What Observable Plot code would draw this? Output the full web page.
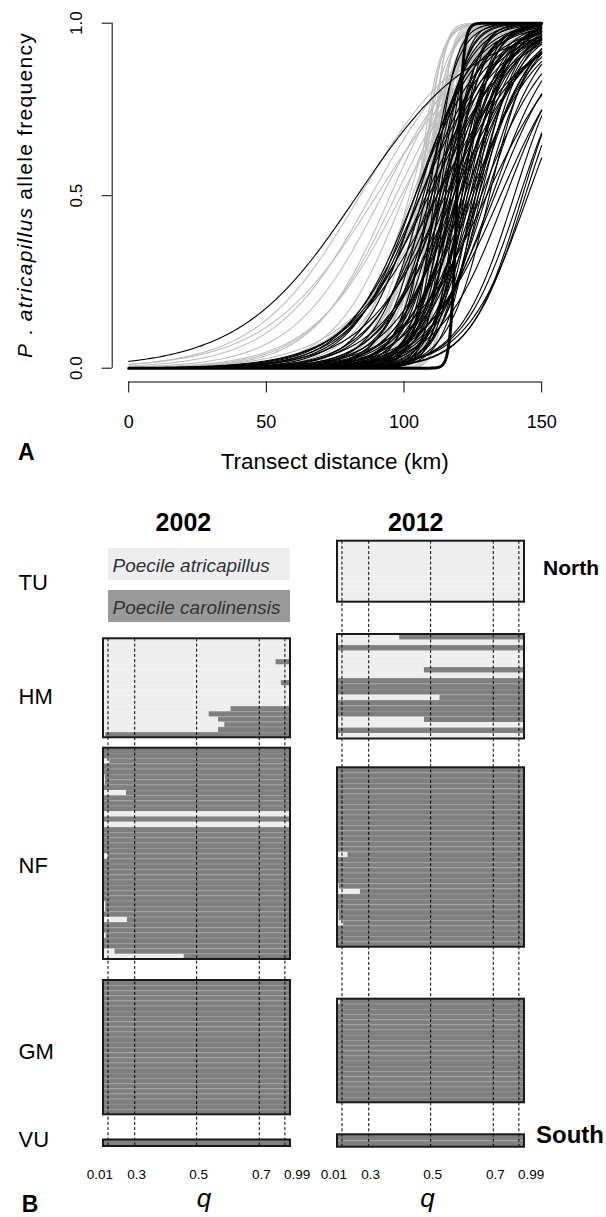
<!DOCTYPE html>
<html><head><meta charset="utf-8">
<script src="https://cdn.jsdelivr.net/npm/d3@7"></script>
<script src="https://cdn.jsdelivr.net/npm/@observablehq/plot@0.6"></script>
<style>
body{margin:0;background:#fff;font-family:"Liberation Sans",Arial,Helvetica,sans-serif;}
#wrap{position:relative;width:606px;height:1217px;overflow:hidden;background:#fff;}
#wrap svg{position:absolute;left:0;}
.lbl{position:absolute;white-space:nowrap;line-height:1;color:#000;}
.leg{position:absolute;}
</style></head><body><div id="wrap"></div>
<script>
// ---------------- DATA ----------------
// Panel A: fitted clines (centre km, width km)
const xTicksA = [0, 50, 100, 150];
const yTicksA = [0, 0.5, 1];
const greyCentre = [84,88,90,92,95,97,99,100,
  102,103,104,105,105,106,106,107,108,108,109,110,111,112,112,
  105,106,107,107,108,108,109,109,110,110,110,111,111,111,112,112,113,113,113,114,114,115,115,115,116,116,116,117,117,118,118,119];
const greyWidth = [75,70,80,65,55,60,65,50,
  35,45,30,40,20,28,45,33,25,60,38,30,42,35,70,
  15,14,12,18,16,20,10,22,13,18,8,11,16,24,9,14,12,18,22,10,15,12,20,25,8,14,20,11,16,10,15,12];
const blackCentre = [83,106,109,112,104,
  140,142,143,144,145,
  133,135,130,128,132,137,
  108,110,111,112,113,114,115,116,117,118,119,120,121,122,123,124,125,126,127,128,
  110,112,114,116,118,120,122,124,126,
  109,111,113,115,117,119,121,123,125,
  107,105,106,104,108,115,118,120,122,119,117,113,116,121,124,127,129,131,130,126];
const blackWidth = [85,55,60,65,50,
  40,42,38,40,45,
  50,55,60,50,45,48,
  30,25,35,20,40,28,22,35,18,30,25,40,22,30,35,28,45,32,38,30,
  45,50,45,48,42,50,45,50,40,
  20,15,18,14,24,16,20,26,24,
  35,40,50,45,55,60,55,30,20,35,40,30,26,34,38,28,36,30,40,22];
const boldCentre = [119.2];
const boldWidth = [4.5];

// Panel B: P. atricapillus ancestry (q) of each individual, top to bottom
const years = ["2002", "2012"];
const pops = ["TU", "HM", "NF", "GM", "VU"];
const qTicks = [0.01, 0.3, 0.5, 0.7, 0.99];
const hm2002 = [1,1,1,1,0.89,1,1,1,0.95,1,1,1,1,0.61,0.54,0.57,0.59,0.57,0.005];
const nf2002 = [0,0,0.03,0,0,0.004,0.004,0,0.21,0,0,0,1,0,1,0,0,0,0,0,
                0.012,0,0,0,0,0,0,0,0,0.005,0.005,0,0.22,0,0,0.006,0,0,0.086,0.46];
const gm2002 = [0,0,0,0,0,0,0,0,0,0,0,0,0,0,0,0,0,0,0,0,0,0,0,0,0,0];
const vu2002 = [0];
const tu2012 = [1,1,1,1,1,1,1,1,1,1,1,1];
const hm2012 = [0.40,1,0,1,1,1,0.48,1,0,0,0,0.53,0,0,0,0.48,1,0,1];
const nf2012 = [0,0,0,0,0,0,0,0,0,0,0,0,0,0,0,0,0.075,0,0,0,0,0,0.004,0.21,0,0,0,0.004,0.004,0.028,0,0,0,0];
const gm2012 = [0.006,0,0,0,0,0,0,0,0,0,0,0,0,0,0,0,0,0,0,0];
const vu2012 = [0,0];

// ---------------- LAYOUT (page pixels) ----------------
const LAYOUT = {
  boxes: {
    "2002": {HM:[638.3,737.3], NF:[747.7,959], GM:[980,1114.3], VU:[1139.5,1146]},
    "2012": {TU:[540.7,601.7], HM:[634,738.5], NF:[767.3,946.7], GM:[998.7,1102.3], VU:[1134.3,1146.7]}
  },
  qFrac: [0, 0.024, 0.167, 0.498, 0.833, 0.970, 1],   // where the q guides sit across a box
  qLabelY: 1174,
  bLeft: 102.5, bRight: 81.5, bGap: 0.202
};
const seriesB = {"2002": {HM: hm2002, NF: nf2002, GM: gm2002, VU: vu2002},
                 "2012": {TU: tu2012, HM: hm2012, NF: nf2012, GM: gm2012, VU: vu2012}};
// the q axis of the figure is drawn with uneven spacing between its guides
const qPos = d3.scaleLinear().domain([0, 0.01, 0.3, 0.5, 0.7, 0.99, 1]).range(LAYOUT.qFrac);

// ---------------- PANEL A ----------------
function clines(centres, widths, group, step) {
  const out = [];
  centres.forEach((c, k) => {
    const w = widths[k];
    const n = Math.round(150 / step);
    for (let j = 0; j <= n; j++) {
      const x = j * step;
      out.push({id: group + k, x, p: 1 / (1 + Math.exp(-4 * (x - c) / w))});
    }
  });
  return out;
}
const greyRows = clines(greyCentre, greyWidth, "g", 0.5);
const blackRows = clines(blackCentre, blackWidth, "b", 0.5);
const boldRows = clines(boldCentre, boldWidth, "t", 0.1);

const FONT = '"Liberation Sans", Arial, Helvetica, sans-serif';
const plotA = Plot.plot({
  width: 606, height: 480,
  marginLeft: 111.7, marginRight: 48.3, marginTop: 8.9, marginBottom: 98.5,
  style: {fontFamily: FONT, background: "transparent", color: "#000"},
  x: {domain: [-6, 156], axis: null},
  y: {domain: [-0.04, 1.04], axis: null},
  marks: [
    Plot.line(greyRows, {x: "x", y: "p", z: "id", stroke: "#bebebe", strokeWidth: 1.1}),
    Plot.line(blackRows, {x: "x", y: "p", z: "id", stroke: "#000", strokeWidth: 1.1}),
    Plot.line(boldRows, {x: "x", y: "p", z: "id", stroke: "#000", strokeWidth: 3}),
    Plot.ruleX([-6], {y1: 0, y2: 1, stroke: "#000", strokeWidth: 1}),
    Plot.ruleY([-0.04], {x1: 0, x2: 150, stroke: "#000", strokeWidth: 1}),
    Plot.axisX(xTicksA, {tickSize: 11, tickPadding: 22, fontSize: 18, label: null}),
    Plot.axisY(yTicksA, {tickSize: 10, tickFormat: () => "", label: null}),
    Plot.text(yTicksA, {x: -6, y: d => d, text: d => d.toFixed(1), rotate: -90, dx: -36,
      fontSize: 17, textAnchor: "middle", lineAnchor: "middle"})
  ]
});
plotA.style.top = "0px";

// ---------------- PANEL B ----------------
const rowsB = [], boxesB = [], sepB = [], dashB = [];
for (const yr of years) {
  const bx = LAYOUT.boxes[yr];
  let top = Infinity, bot = -Infinity;
  for (const pop of pops) {
    const vals = seriesB[yr][pop];
    if (!vals) continue;
    const [t, b] = bx[pop];
    top = Math.min(top, t); bot = Math.max(bot, b);
    const h = (b - t) / vals.length;
    boxesB.push({year: yr, pop, t, b});
    vals.forEach((q, i) => {
      rowsB.push({year: yr, pop, q, y1: t + i * h, y2: t + (i + 1) * h});
      if (i > 0) sepB.push({year: yr, y: t + i * h});
    });
  }
  for (const q of qTicks) dashB.push({year: yr, q, t: top, b: bot});
}
const qLab = years.flatMap(yr => qTicks.map(q => ({year: yr, q})));

const plotB = Plot.plot({
  width: 606, height: 737,
  marginLeft: LAYOUT.bLeft, marginRight: LAYOUT.bRight, marginTop: 0, marginBottom: 0,
  style: {fontFamily: FONT, background: "transparent", color: "#000"},
  fx: {domain: years, paddingInner: LAYOUT.bGap, paddingOuter: 0, axis: null},
  x: {domain: [0, 1], axis: null},
  y: {domain: [480, 1217], range: [0, 737], axis: null},
  marks: [
    Plot.rect(rowsB, {fx: "year", x1: 0, x2: d => qPos(d.q), y1: "y1", y2: "y2", fill: "#eeeeee"}),
    Plot.rect(rowsB, {fx: "year", x1: d => qPos(d.q), x2: 1, y1: "y1", y2: "y2", fill: "#7f7f7f"}),
    Plot.ruleY(sepB, {fx: "year", y: "y", x1: 0, x2: 1, stroke: "#fff", strokeOpacity: 0.12, strokeWidth: 1}),
    Plot.ruleX(dashB, {fx: "year", x: d => qPos(d.q), y1: "t", y2: "b", stroke: "#000", strokeWidth: 1, strokeDasharray: "3,2.2"}),
    Plot.rect(boxesB, {fx: "year", x1: 0, x2: 1, y1: "t", y2: "b", fill: "none", stroke: "#1a1a1a", strokeWidth: 2}),
    Plot.text(qLab.filter(d => d.q > 0.1 && d.q < 0.9), {fx: "year", x: d => qPos(d.q), y: LAYOUT.qLabelY, text: d => String(d.q), fontSize: 13.5, dx: 2}),
    Plot.text(qLab.filter(d => d.q < 0.1), {fx: "year", x: d => qPos(d.q), y: LAYOUT.qLabelY, text: d => String(d.q), fontSize: 13.5, textAnchor: "end", dx: 5}),
    Plot.text(qLab.filter(d => d.q > 0.9), {fx: "year", x: d => qPos(d.q), y: LAYOUT.qLabelY, text: d => String(d.q), fontSize: 13.5, textAnchor: "start", dx: -1})
  ]
});
plotB.style.top = "480px";

const wrap = document.getElementById("wrap");
wrap.appendChild(plotA);
wrap.appendChild(plotB);

// ---------------- TEXT & LEGEND ----------------
function label(html, x, y, css, anchor = "center") {
  const d = document.createElement("div");
  d.className = "lbl";
  d.innerHTML = html;
  d.style.left = x + "px";
  d.style.top = y + "px";
  d.style.transform = anchor === "left" ? "translate(0,-50%)" : "translate(-50%,-50%)";
  Object.assign(d.style, css || {});
  wrap.appendChild(d);
  return d;
}
function legBox(y0, y1, fill, text) {
  const b = document.createElement("div");
  b.className = "leg";
  Object.assign(b.style, {left: "108px", top: y0 + "px", width: "182px", height: (y1 - y0) + "px", background: fill});
  wrap.appendChild(b);
  label(text, 112.5, (y0 + y1) / 2 + 1, {fontSize: "19px", fontStyle: "italic", color: "#333"}, "left");
}
legBox(548.3, 580, "#eeeeee", "Poecile atricapillus");
legBox(590, 621.7, "#9a9a9a", "Poecile carolinensis");

const ylab = label('<i>P</i> . <i>atricapillus</i> allele frequency', 24, 195, {fontSize: "21px"});
ylab.style.transform = "translate(-50%,-50%) rotate(-90deg)";
const natural = ylab.getBoundingClientRect().height;
const nChars = ylab.textContent.length;
ylab.style.letterSpacing = ((326 - natural) / nChars) + "px";

label("A", 26.4, 451.7, {fontSize: "23px", fontWeight: "bold"});
label("Transect distance (km)", 334.7, 461.7, {fontSize: "22.5px"});
label("2002", 183.4, 521.7, {fontSize: "25px", fontWeight: "bold"});
label("2012", 415.7, 521.7, {fontSize: "25px", fontWeight: "bold"});
label("North", 571, 567.3, {fontSize: "21px", fontWeight: "bold"});
label("South", 570, 1135, {fontSize: "24px", fontWeight: "bold"});
const popLabelY = {TU: 582.7, HM: 696.7, NF: 865.7, GM: 1051.7, VU: 1140};
for (const p of pops) label(p, 18.5, popLabelY[p], {fontSize: "22px"}, "left");
label("q", 204, 1198, {fontSize: "26px", fontStyle: "italic"});
label("q", 427.4, 1198, {fontSize: "26px", fontStyle: "italic"});
label("B", 30, 1203.5, {fontSize: "23px", fontWeight: "bold"});
</script></body></html>
